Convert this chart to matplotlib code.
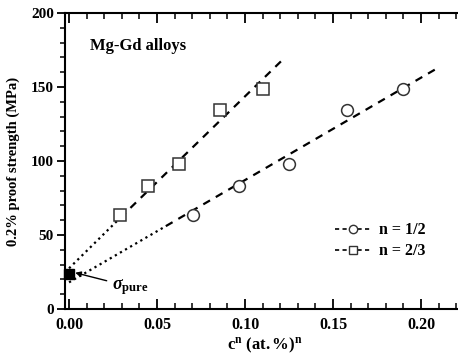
import numpy as np
import matplotlib.pyplot as plt

plt.rcParams['font.family'] = 'Liberation Serif'
plt.rcParams['font.weight'] = 'bold'
plt.rcParams['mathtext.fontset'] = 'custom'
plt.rcParams['mathtext.rm'] = 'Liberation Serif'
plt.rcParams['mathtext.it'] = 'Liberation Serif:italic'
plt.rcParams['mathtext.bf'] = 'Liberation Serif:bold'

# datos
c_half = [0.0705, 0.0966, 0.125, 0.158, 0.190]      # n = 1/2
c_twothirds = [0.029, 0.045, 0.0625, 0.0858, 0.110]  # n = 2/3
sigma = [63.5, 83, 98, 134.5, 148.6]
sigma_pure = 23.5

# rectas de ajuste (extremos)
fit_half_dot_x = [0.0, 0.055]
fit_half_dot_y = [18, 56]
fit_half_dash_x = [0.055, 0.2097]
fit_half_dash_y = [56, 163]
fit_tt_dot_x = [0.0, 0.029]
fit_tt_dot_y = [27.5, 61.5]
fit_tt_dash_x = [0.029, 0.121]
fit_tt_dash_y = [61.5, 168]

fig = plt.figure(figsize=(4.58, 3.62), dpi=100)
ax = fig.add_axes([65/458, 1-309/362, 400/458, (309-13)/362])

ax.plot(fit_half_dot_x, fit_half_dot_y, ':', color='black', lw=1.6)
ax.plot(fit_half_dash_x, fit_half_dash_y, color='black', lw=1.6, dashes=(3.5, 3))
ax.plot(fit_tt_dot_x, fit_tt_dot_y, ':', color='black', lw=1.6)
ax.plot(fit_tt_dash_x, fit_tt_dash_y, color='black', lw=1.6, dashes=(3.5, 3))

ax.plot(c_half, sigma, 'o', mfc='white', mec='#333333', ms=8.5, mew=1.1, zorder=3)
ax.plot(c_twothirds, sigma, 's', mfc='white', mec='#333333', ms=8, mew=1.1, zorder=3)
ax.plot([0.0], [sigma_pure], 's', color='black', ms=7, zorder=4, clip_on=False)

# leyenda
ax.plot([], [], color='black', lw=1.2, dashes=(2.5, 2), marker='o', mfc='white',
        mec='#333333', ms=6, label='n = 1/2')
ax.plot([], [], color='black', lw=1.2, dashes=(2.5, 2), marker='s', mfc='white',
        mec='#333333', ms=6, label='n = 2/3')
ax.legend(loc='lower left', bbox_to_anchor=(0.64, 0.12), frameon=False,
          prop={'size': 11.5, 'weight': 'bold'}, handlelength=2.2,
          handletextpad=0.5, labelspacing=0.3)

ax.text(0.012, 178, 'Mg-Gd alloys', fontsize=12, fontweight='bold', va='center')
ax.annotate(r'$\sigma_{\mathbf{pure}}$', xy=(0.0035, 24.5), xytext=(0.0245, 15),
            fontsize=13, va='center',
            arrowprops=dict(arrowstyle='-|>', color='black', lw=1.0,
                            mutation_scale=8, shrinkA=2, shrinkB=0))

ax.set_xlim(-0.0023, 0.225)
ax.set_ylim(0, 200)
ax.set_xticks([0.0, 0.05, 0.10, 0.15, 0.20])
ax.set_xticks(np.arange(0, 0.225, 0.01), minor=True)
ax.set_yticks([0, 50, 100, 150, 200])
ax.set_yticks(np.arange(0, 201, 10), minor=True)
ax.set_xticklabels(['0.00', '0.05', '0.10', '0.15', '0.20'])

ax.tick_params(axis='x', which='both', direction='in', top=True, labelsize=11.5, pad=6)
ax.tick_params(axis='x', which='major', length=7, width=1.3)
ax.tick_params(axis='x', which='minor', length=4, width=1.1)
ax.tick_params(axis='y', which='both', direction='out', labelsize=11, pad=2)
ax.tick_params(axis='y', which='major', length=6, width=1.3)
ax.tick_params(axis='y', which='minor', length=3.5, width=1.1)
for s in ax.spines.values():
    s.set_linewidth(1.5)
ax.spines['right'].set_visible(False)

ax.set_xlabel(r'$\mathbf{c^n\ (at.\%)^n}$', fontsize=12, labelpad=2)
ax.set_ylabel('0.2% proof strength (MPa)', fontsize=10.5, fontweight='bold', labelpad=8)

fig.savefig('out.png', dpi=100)
